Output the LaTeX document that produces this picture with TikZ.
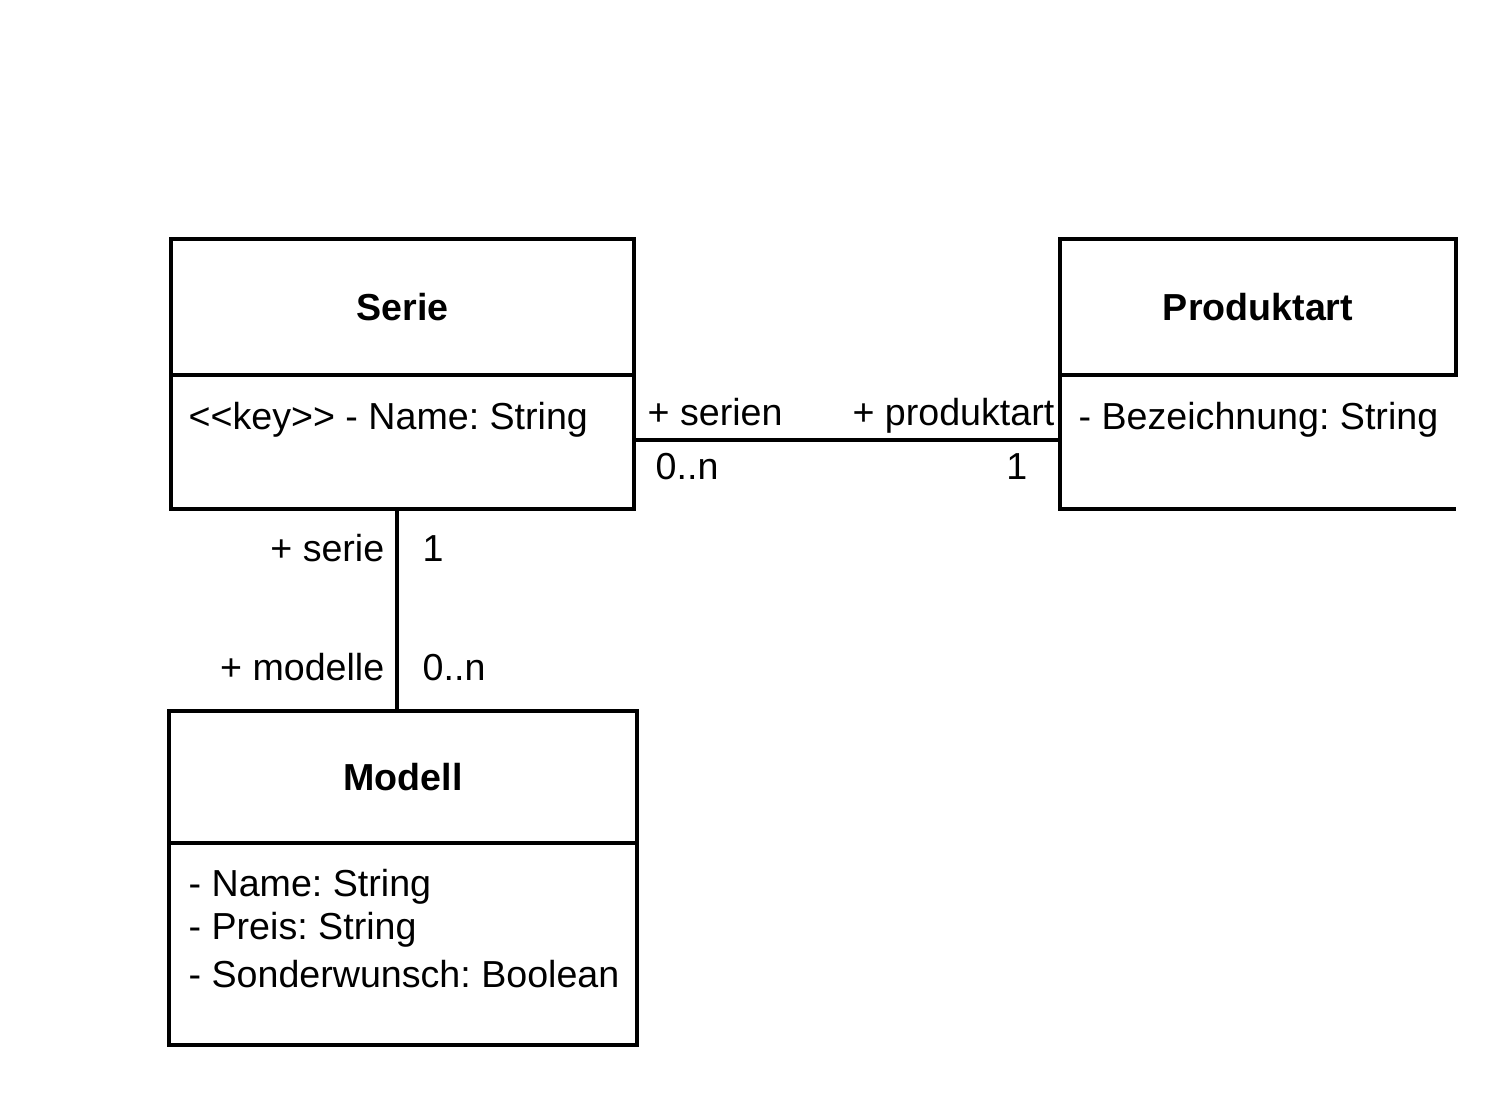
\documentclass[tikz,border=0pt]{standalone}
\usepackage{fontspec}
\setmainfont{Liberation Sans}
\frenchspacing
\usetikzlibrary{positioning}
\begin{document}
\begin{tikzpicture}[
    classhead/.style={draw, line width=0.9pt, inner sep=0pt, outer sep=0pt, anchor=north west,
      font=\fontsize{10.7}{12.8}\selectfont\bfseries},
    classbody/.style={inner sep=0pt, outer sep=0pt, anchor=north west},
    attr/.style={inner sep=0pt, anchor=base west, font=\fontsize{10.7}{12.8}\selectfont},
    role/.style={inner sep=0pt, font=\fontsize{10.7}{12.8}\selectfont},
    boxline/.style={line width=0.9pt},
    assoc/.style={line width=0.9pt}
  ]
  \useasboundingbox (0,0) rectangle (15,11.14);

  \node[classhead, minimum width=4.63cm, minimum height=1.36cm] (seriename) at (1.71,8.75) {Serie};
  \node[classbody, minimum width=4.63cm, minimum height=1.34cm] (serieattr) at (seriename.south west) {};
  \draw[boxline] (serieattr.north west) -- (serieattr.south west) -- (serieattr.south east) -- (serieattr.north east);
  \node[attr] (seriekey) at ([xshift=0.17cm, yshift=-0.55cm]serieattr.north west) {<{}<key>{}> - Name: String};

  \node[classhead, minimum width=3.96cm, minimum height=1.36cm] (produktname) at (10.60,8.75) {Produktart};
  \node[classbody, minimum width=3.96cm, minimum height=1.34cm] (produktattr) at (produktname.south west) {};
  \draw[boxline] (produktattr.north west) -- (produktattr.south west) -- (produktattr.south east);
  \node[attr] (produktbez) at ([xshift=0.18cm, yshift=-0.55cm]produktattr.north west) {- Bezeichnung: String};

  \node[classhead, minimum width=4.68cm, minimum height=1.32cm] (modellname) at (1.69,4.03) {Modell};
  \node[classbody, minimum width=4.68cm, minimum height=2.02cm] (modellattr) at (modellname.south west) {};
  \draw[boxline] (modellattr.north west) -- (modellattr.south west) -- (modellattr.south east) -- (modellattr.north east);
  \node[attr] (modellnm) at ([xshift=0.19cm, yshift=-0.54cm]modellattr.north west) {- Name: String};
  \node[attr] (modellpreis) at ([yshift=-0.43cm]modellnm.base west) {- Preis: String};
  \node[attr] (modellwunsch) at ([yshift=-0.48cm]modellpreis.base west) {- Sonderwunsch: Boolean};

  \coordinate (serietop) at ([xshift=-0.055cm]serieattr.south);
  \draw[assoc] ([yshift=0.02cm]serieattr.east) -- ([yshift=0.02cm]produktattr.west);
  \draw[assoc] (serietop) -- (serietop |- modellname.north);

  \node[role, anchor=base west] (rserien) at ([xshift=0.13cm, yshift=0.16cm]serieattr.east) {+ serien};
  \node[role, anchor=base west] (mserien) at ([xshift=0.21cm, yshift=-0.38cm]serieattr.east) {0..n};
  \node[role, anchor=base east] (rprodukt) at ([xshift=-0.05cm, yshift=0.16cm]produktattr.west) {+ produktart};
  \node[role, anchor=base east] (mprodukt) at ([xshift=-0.32cm, yshift=-0.38cm]produktattr.west) {1};
  \node[role, anchor=base east] (rserie) at ([xshift=-0.12cm, yshift=-0.53cm]serietop) {+ serie};
  \node[role, anchor=base west] (mserie) at ([xshift=0.25cm, yshift=-0.53cm]serietop) {1};
  \node[role, anchor=base east] (rmodelle) at ([xshift=-0.12cm, yshift=0.30cm]serietop |- modellname.north) {+ modelle};
  \node[role, anchor=base west] (mmodelle) at ([xshift=0.25cm, yshift=0.30cm]serietop |- modellname.north) {0..n};
\end{tikzpicture}
\end{document}
